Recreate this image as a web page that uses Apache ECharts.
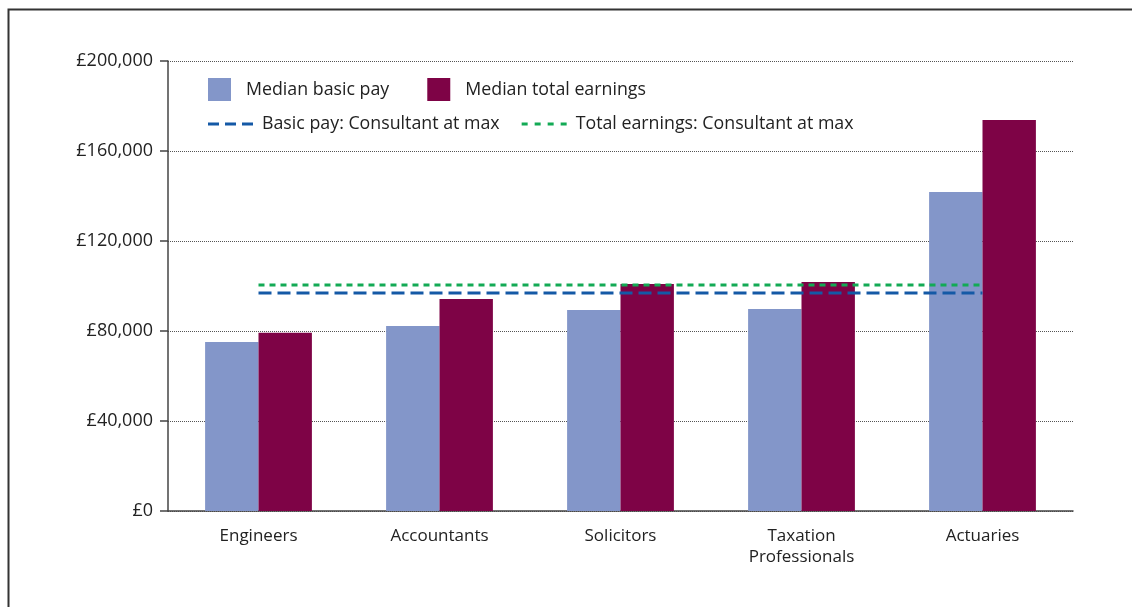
<!DOCTYPE html>
<html>
<head>
<meta charset="utf-8">
<script src="https://cdn.jsdelivr.net/npm/echarts@6/dist/echarts.min.js"></script>
<style>html,body{margin:0;padding:0;background:#fff}#c{width:1132px;height:607px}</style>
</head>
<body>
<div id="c"></div>
<script>
const categories = ['Engineers', 'Accountants', 'Solicitors', 'Taxation\nProfessionals', 'Actuaries'];
const basicPay = [75100, 82200, 89300, 89800, 141800];
const totalEarnings = [79200, 94200, 100900, 101800, 173800];
const basicConsultantMax = [96900, 96900, 96900, 96900, 96900];
const totalConsultantMax = [100400, 100400, 100400, 100400, 100400];
const yTicks = { min: 0, max: 200000, interval: 40000 };

const font = '"Open Sans", "Noto Sans", sans-serif';
const dashIcon = 'path://M0,0H11V3H0Z M17,0H28V3H17Z M34,0H45V3H34Z';
const dotIcon = 'path://M0,0H6V3H0Z M13,0H19V3H13Z M26,0H32V3H26Z M39,0H45V3H39Z';
const chart = echarts.init(document.getElementById('c'), null, { renderer: 'canvas' });
chart.setOption({
  animation: false,
  backgroundColor: '#fff',
  graphic: [{
    type: 'rect', left: 6, top: 7, shape: { width: 1200, height: 700 },
    style: { fill: 'none', stroke: '#333', lineWidth: 2 }, silent: true, z: -1
  }],
  grid: { left: 168, right: 59, top: 61, bottom: 96, containLabel: false },
  legend: [{
    left: 208, top: 78, padding: 0, itemWidth: 23, itemHeight: 23, itemGap: 38, icon: 'rect',
    data: ['Median basic pay', 'Median total earnings'],
    textStyle: { fontFamily: font, fontSize: 17.8, color: '#222', padding: [0, 0, 0, 10] }
  }, {
    left: 208, top: 115, padding: 0, itemWidth: 45, itemHeight: 3, itemGap: 22,
    data: [
      { name: 'Basic pay: Consultant at max', icon: dashIcon },
      { name: 'Total earnings: Consultant at max', icon: dotIcon }
    ],
    textStyle: { fontFamily: font, fontSize: 17.8, color: '#222', padding: [0, 0, 0, 4] }
  }],
  xAxis: {
    type: 'category', data: categories,
    axisLine: { lineStyle: { color: '#444', width: 1.5 } },
    axisTick: { length: 7, lineStyle: { color: '#444', width: 1.5 } },
    axisLabel: { fontFamily: font, fontSize: 17, color: '#222', margin: 15, lineHeight: 21 }
  },
  yAxis: {
    type: 'value', min: yTicks.min, max: yTicks.max, interval: yTicks.interval,
    axisLine: { show: true, lineStyle: { color: '#444', width: 1.5 } },
    axisTick: { show: true, length: 8, lineStyle: { color: '#444', width: 1.5 } },
    axisLabel: {
      fontFamily: font, fontSize: 18, color: '#222', margin: 15,
      formatter: v => '£' + v.toLocaleString('en-GB')
    },
    splitLine: { lineStyle: { color: '#555', type: [1, 1], width: 1 } }
  },
  series: [{
    name: 'Median basic pay', type: 'bar', data: basicPay,
    itemStyle: { color: '#8396C9' }, barGap: '0%', barCategoryGap: '41%'
  }, {
    name: 'Median total earnings', type: 'bar', data: totalEarnings,
    itemStyle: { color: '#7E0346' }
  }, {
    name: 'Basic pay: Consultant at max', type: 'line', data: basicConsultantMax,
    symbol: 'none', z: 5, itemStyle: { color: '#1459A6' },
    lineStyle: { color: '#1459A6', width: 3, type: [13, 6] }
  }, {
    name: 'Total earnings: Consultant at max', type: 'line', data: totalConsultantMax,
    symbol: 'none', z: 5, itemStyle: { color: '#13AA55' },
    lineStyle: { color: '#13AA55', width: 3, type: [6, 5] }
  }]
});
</script>
</body>
</html>
